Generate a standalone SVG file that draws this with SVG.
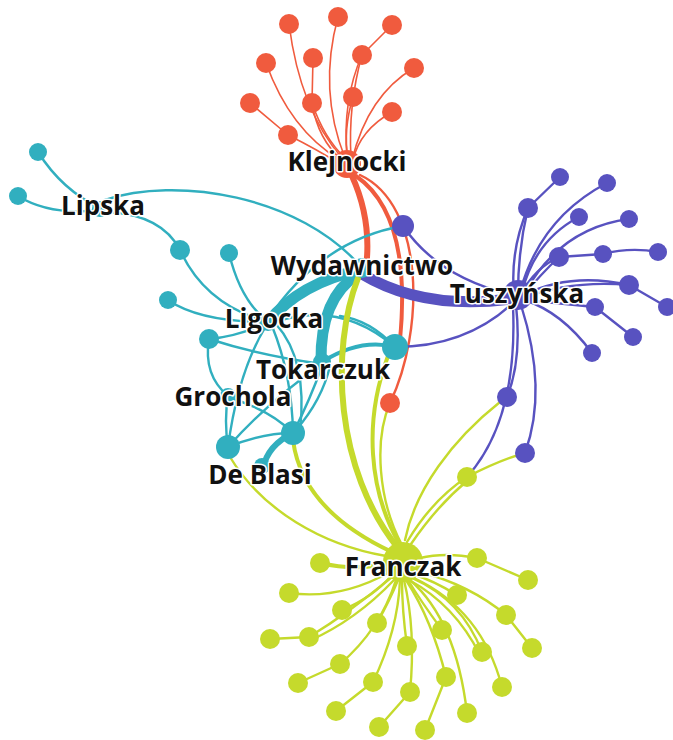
<svg xmlns="http://www.w3.org/2000/svg" width="673" height="740" viewBox="0 0 673 740">
<style>
.e{fill:none;stroke-linecap:round}
.er{stroke:#f05b3e}
.et{stroke:#31afbf}
.ep{stroke:#5852c0}
.eg{stroke:#c5da2c}
.w1{stroke-width:1.6}
.w2{stroke-width:2.4}
.w4{stroke-width:4}
.w6{stroke-width:6}
.w10{stroke-width:11}
.nr{fill:#f05b3e}
.nt{fill:#31afbf}
.np{fill:#5852c0}
.ng{fill:#c5da2c}
.lbl{font-family:"Open Sans","DejaVu Sans",sans-serif;font-weight:700;font-size:26px;fill:#111;stroke:#fff;stroke-width:3;paint-order:stroke;stroke-linejoin:round;text-anchor:middle}
</style>
<rect width="673" height="740" fill="#fff"/>
<g id="connectors">
<!-- red -->
<path class="e er w1" d="M289,24 Q300,110 342,158"/>
<path class="e er w1" d="M338,17 Q318,90 345,158"/>
<path class="e er w1" d="M392,25 L362,55"/>
<path class="e er w1" d="M362,55 Q342,100 347,158"/>
<path class="e er w1" d="M362,55 Q348,105 351,158"/>
<path class="e er w1" d="M266,63 Q290,130 340,160"/>
<path class="e er w1" d="M313,58 L312,103"/>
<path class="e er w1" d="M312,103 Q318,140 342,160"/>
<path class="e er w1" d="M312,103 Q324,138 345,158"/>
<path class="e er w1" d="M414,68 Q368,95 352,160"/>
<path class="e er w1" d="M250,103 L288,135"/>
<path class="e er w1" d="M288,135 Q318,150 340,164"/>
<path class="e er w1" d="M353,97 Q343,130 348,158"/>
<path class="e er w1" d="M392,112 Q360,130 353,160"/>
<path class="e er w6" d="M352,176 Q372,220 366,268"/>
<path class="e er w4" d="M356,176 Q412,215 400,340"/>
<path class="e er w2" d="M360,175 C425,205 425,330 390,403"/>
<!-- teal -->
<path class="e et w2" d="M100,208 Q62,190 38,152"/>
<path class="e et w2" d="M100,210 Q50,216 18,196"/>
<path class="e et w2" d="M108,212 Q162,215 180,250"/>
<path class="e et w2" d="M105,200 C175,176 300,195 362,268"/>
<path class="e et w2" d="M180,250 Q205,305 268,322"/>
<path class="e et w2" d="M229,253 Q240,300 268,322"/>
<path class="e et w2" d="M168,300 Q200,322 268,322"/>
<path class="e et w2" d="M209,339 Q240,336 268,322"/>
<path class="e et w2" d="M209,339 Q262,356 322,364"/>
<path class="e et w2" d="M209,339 Q203,375 228,396"/>
<path class="e et w2" d="M266,326 Q238,372 228,447"/>
<path class="e et w2" d="M272,326 Q292,375 293,433"/>
<path class="e et w2" d="M276,324 Q308,360 300,430"/>
<path class="e et w2" d="M275,322 Q340,300 395,347"/>
<path class="e et w2" d="M403,226 Q320,240 266,322"/>
<path class="e et w4" d="M322,362 Q360,338 395,347"/>
<path class="e et w2" d="M340,316 Q370,320 395,347"/>
<path class="e et w2" d="M228,396 Q224,420 228,447"/>
<path class="e et w2" d="M230,398 Q270,410 293,433"/>
<path class="e et w2" d="M228,447 Q262,433 293,433"/>
<path class="e et w2" d="M228,447 Q270,400 322,364"/>
<path class="e et w2" d="M293,433 Q310,400 322,366"/>
<path class="e et w2" d="M296,430 Q322,400 330,366"/>
<path class="e et w6" d="M293,433 Q268,445 263,468"/>
<path class="e et w10" d="M360,270 Q300,283 268,322"/>
<path class="e et w10" d="M358,274 Q320,298 321,362"/>
<!-- purple -->
<path class="e ep w10" d="M362,274 Q425,312 518,298"/>
<path class="e ep w2" d="M395,347 Q470,347 518,298"/>
<path class="e ep w2" d="M403,226 Q440,280 518,296"/>
<path class="e ep w2" d="M528,208 Q510,250 514,294"/>
<path class="e ep w2" d="M528,208 Q518,250 518,294"/>
<path class="e ep w2" d="M560,177 L528,208"/>
<path class="e ep w2" d="M607,183 Q540,218 520,292"/>
<path class="e ep w2" d="M579,217 Q535,240 522,292"/>
<path class="e ep w2" d="M629,219 Q560,228 524,294"/>
<path class="e ep w2" d="M559,257 Q535,268 521,294"/>
<path class="e ep w2" d="M559,257 Q540,275 523,296"/>
<path class="e ep w2" d="M658,252 Q630,247 603,254 L559,257"/>
<path class="e ep w2" d="M629,285 Q570,272 524,295"/>
<path class="e ep w2" d="M629,285 Q570,280 524,298"/>
<path class="e ep w2" d="M667,307 L629,285"/>
<path class="e ep w2" d="M595,307 L525,300"/>
<path class="e ep w2" d="M633,337 L595,307"/>
<path class="e ep w2" d="M592,353 Q562,312 524,300"/>
<path class="e ep w2" d="M516,305 Q522,360 507,397"/>
<path class="e ep w2" d="M521,305 Q548,390 525,453"/>
<path class="e ep w2" d="M513,306 Q518,420 467,477"/>
<!-- green -->
<path class="e eg w6" d="M358,278 C330,350 335,470 398,548"/>
<path class="e eg w4" d="M388,356 C364,420 368,490 400,545"/>
<path class="e eg w2" d="M390,403 C374,440 378,500 402,545"/>
<path class="e eg w4" d="M293,440 C300,495 345,530 392,552"/>
<path class="e eg w2" d="M230,457 C262,510 322,545 386,556"/>
<path class="e eg w2" d="M500,402 C452,440 415,490 405,540"/>
<path class="e eg w2" d="M467,477 Q432,500 407,542"/>
<path class="e eg w2" d="M467,481 Q437,506 411,544"/>
<path class="e eg w2" d="M467,477 Q500,460 525,453"/>
<path class="e eg w4" d="M320,563 Q360,572 390,562"/>
<path class="e eg w2" d="M528,580 L477,558"/>
<path class="e eg w2" d="M477,558 Q445,552 420,558"/>
<path class="e eg w2" d="M289,593 Q340,600 390,572"/>
<path class="e eg w2" d="M342,610 Q372,598 392,575"/>
<path class="e eg w2" d="M457,595 Q432,580 415,575"/>
<path class="e eg w2" d="M532,648 L506,615"/>
<path class="e eg w2" d="M506,615 Q470,585 420,572"/>
<path class="e eg w2" d="M377,623 Q390,600 398,580"/>
<path class="e eg w2" d="M270,639 L309,637"/>
<path class="e eg w2" d="M309,637 Q350,612 392,577"/>
<path class="e eg w2" d="M309,641 Q356,620 394,580"/>
<path class="e eg w2" d="M407,646 Q402,610 402,580"/>
<path class="e eg w2" d="M442,630 Q420,600 408,580"/>
<path class="e eg w2" d="M482,652 Q462,600 412,578"/>
<path class="e eg w2" d="M480,655 Q455,605 409,580"/>
<path class="e eg w2" d="M298,683 L340,664"/>
<path class="e eg w2" d="M340,664 Q380,630 396,580"/>
<path class="e eg w2" d="M336,711 L373,682"/>
<path class="e eg w2" d="M373,682 Q398,630 400,580"/>
<path class="e eg w2" d="M446,677 Q432,620 406,580"/>
<path class="e eg w2" d="M425,730 L446,677"/>
<path class="e eg w2" d="M502,687 Q482,610 414,578"/>
<path class="e eg w2" d="M379,727 L410,692"/>
<path class="e eg w2" d="M410,692 Q416,630 404,580"/>
<path class="e eg w2" d="M467,713 Q456,620 410,580"/>
</g>
<!-- red leaves -->
<g id="n-r1"><circle class="nr" cx="289" cy="24" r="10"/></g>
<g id="n-r2"><circle class="nr" cx="338" cy="17" r="10"/></g>
<g id="n-r3"><circle class="nr" cx="392" cy="25" r="10"/></g>
<g id="n-r4"><circle class="nr" cx="266" cy="63" r="10"/></g>
<g id="n-r5"><circle class="nr" cx="313" cy="58" r="10"/></g>
<g id="n-r6"><circle class="nr" cx="362" cy="55" r="10"/></g>
<g id="n-r7"><circle class="nr" cx="414" cy="68" r="10"/></g>
<g id="n-r8"><circle class="nr" cx="250" cy="103" r="10"/></g>
<g id="n-r9"><circle class="nr" cx="312" cy="103" r="10"/></g>
<g id="n-r10"><circle class="nr" cx="353" cy="97" r="10"/></g>
<g id="n-r11"><circle class="nr" cx="392" cy="112" r="10"/></g>
<g id="n-r12"><circle class="nr" cx="288" cy="135" r="10"/></g>
<g id="n-r13"><circle class="nr" cx="390" cy="403" r="10"/></g>
<!-- teal leaves -->
<g id="n-t1"><circle class="nt" cx="38" cy="152" r="9"/></g>
<g id="n-t2"><circle class="nt" cx="18" cy="196" r="9"/></g>
<g id="n-t3"><circle class="nt" cx="180" cy="250" r="10"/></g>
<g id="n-t4"><circle class="nt" cx="229" cy="253" r="9"/></g>
<g id="n-t5"><circle class="nt" cx="168" cy="300" r="9"/></g>
<g id="n-t6"><circle class="nt" cx="209" cy="339" r="10"/></g>
<g id="n-t7"><circle class="nt" cx="228" cy="447" r="12"/></g>
<g id="n-t8"><circle class="nt" cx="293" cy="433" r="12"/></g>
<g id="n-t9"><circle class="nt" cx="395" cy="347" r="13"/></g>
<!-- purple leaves -->
<g id="n-p1"><circle class="np" cx="403" cy="226" r="11"/></g>
<g id="n-p2"><circle class="np" cx="560" cy="177" r="9"/></g>
<g id="n-p3"><circle class="np" cx="607" cy="183" r="9"/></g>
<g id="n-p4"><circle class="np" cx="528" cy="208" r="10"/></g>
<g id="n-p5"><circle class="np" cx="579" cy="217" r="9"/></g>
<g id="n-p6"><circle class="np" cx="629" cy="219" r="9"/></g>
<g id="n-p7"><circle class="np" cx="559" cy="257" r="10"/></g>
<g id="n-p8"><circle class="np" cx="603" cy="254" r="9"/></g>
<g id="n-p9"><circle class="np" cx="658" cy="252" r="9"/></g>
<g id="n-p10"><circle class="np" cx="629" cy="285" r="10"/></g>
<g id="n-p11"><circle class="np" cx="667" cy="307" r="9"/></g>
<g id="n-p12"><circle class="np" cx="595" cy="307" r="9"/></g>
<g id="n-p13"><circle class="np" cx="633" cy="337" r="9"/></g>
<g id="n-p14"><circle class="np" cx="592" cy="353" r="9"/></g>
<g id="n-p15"><circle class="np" cx="507" cy="397" r="10"/></g>
<g id="n-p16"><circle class="np" cx="525" cy="453" r="10"/></g>
<!-- green leaves -->
<g id="n-g1"><circle class="ng" cx="467" cy="477" r="10"/></g>
<g id="n-g2"><circle class="ng" cx="320" cy="563" r="10"/></g>
<g id="n-g3"><circle class="ng" cx="477" cy="558" r="10"/></g>
<g id="n-g4"><circle class="ng" cx="528" cy="580" r="10"/></g>
<g id="n-g5"><circle class="ng" cx="289" cy="593" r="10"/></g>
<g id="n-g6"><circle class="ng" cx="342" cy="610" r="10"/></g>
<g id="n-g7"><circle class="ng" cx="457" cy="595" r="10"/></g>
<g id="n-g8"><circle class="ng" cx="506" cy="615" r="10"/></g>
<g id="n-g9"><circle class="ng" cx="377" cy="623" r="10"/></g>
<g id="n-g10"><circle class="ng" cx="270" cy="639" r="10"/></g>
<g id="n-g11"><circle class="ng" cx="309" cy="637" r="10"/></g>
<g id="n-g12"><circle class="ng" cx="407" cy="646" r="10"/></g>
<g id="n-g13"><circle class="ng" cx="442" cy="630" r="10"/></g>
<g id="n-g14"><circle class="ng" cx="482" cy="652" r="10"/></g>
<g id="n-g15"><circle class="ng" cx="532" cy="648" r="10"/></g>
<g id="n-g16"><circle class="ng" cx="340" cy="664" r="10"/></g>
<g id="n-g17"><circle class="ng" cx="298" cy="683" r="10"/></g>
<g id="n-g18"><circle class="ng" cx="373" cy="682" r="10"/></g>
<g id="n-g19"><circle class="ng" cx="446" cy="677" r="10"/></g>
<g id="n-g20"><circle class="ng" cx="502" cy="687" r="10"/></g>
<g id="n-g21"><circle class="ng" cx="336" cy="711" r="10"/></g>
<g id="n-g22"><circle class="ng" cx="410" cy="692" r="10"/></g>
<g id="n-g23"><circle class="ng" cx="467" cy="713" r="10"/></g>
<g id="n-g24"><circle class="ng" cx="379" cy="727" r="10"/></g>
<g id="n-g25"><circle class="ng" cx="425" cy="730" r="10"/></g>
<!-- hubs with labels -->
<g id="hub-klejnocki"><circle class="nr" cx="347" cy="164" r="14"/><text class="lbl" x="347" y="171">Klejnocki</text></g>
<g id="hub-lipska"><circle class="nt" cx="100" cy="209" r="8"/><text class="lbl" x="103" y="215">Lipska</text></g>
<g id="hub-wydawnictwo"><circle class="nt" cx="362" cy="268" r="10"/><text class="lbl" x="362" y="275">Wydawnictwo</text></g>
<g id="hub-tuszynska"><circle class="np" cx="518" cy="295" r="15"/><text class="lbl" x="517" y="303">Tuszyńska</text></g>
<g id="hub-ligocka"><circle class="nt" cx="268" cy="322" r="9"/><text class="lbl" x="274" y="328">Ligocka</text></g>
<g id="hub-tokarczuk"><circle class="nt" cx="322" cy="362" r="9"/><text class="lbl" x="323" y="379">Tokarczuk</text></g>
<g id="hub-grochola"><circle class="nt" cx="228" cy="396" r="8"/><text class="lbl" x="233" y="406">Grochola</text></g>
<g id="hub-deblasi"><circle class="nt" cx="262" cy="466" r="8"/><text class="lbl" x="260" y="484">De Blasi</text></g>
<g id="hub-franczak"><circle class="ng" cx="403" cy="562" r="20"/><text class="lbl" x="403" y="576">Franczak</text></g>
</svg>
